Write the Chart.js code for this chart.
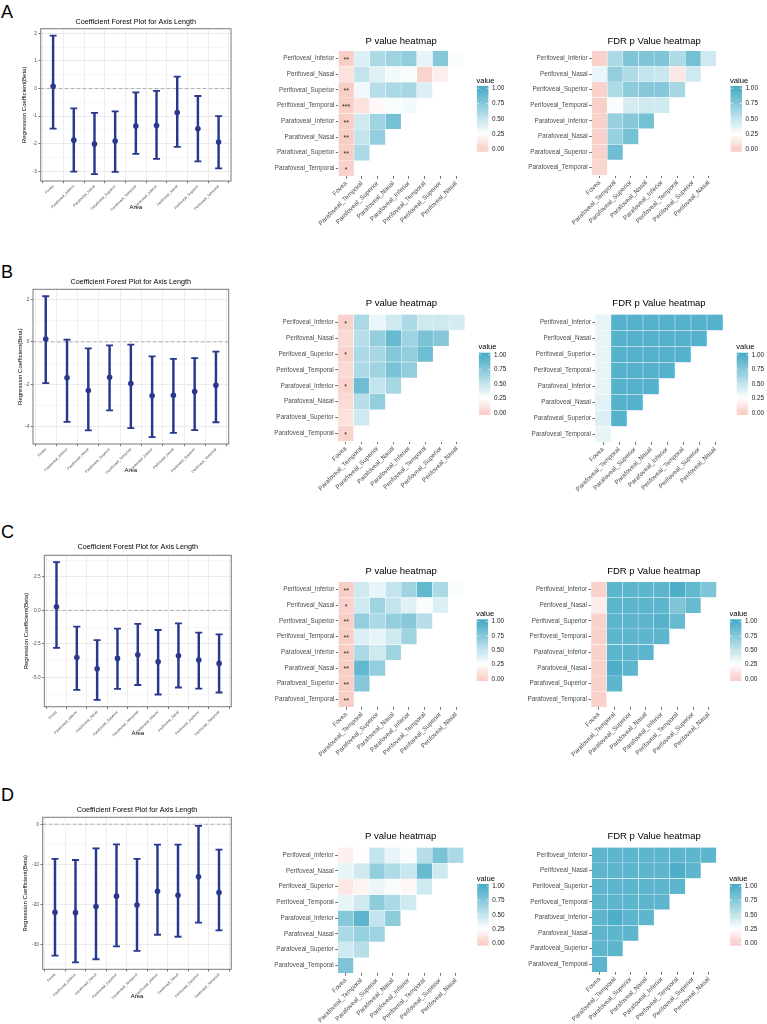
<!DOCTYPE html>
<html>
<head>
<meta charset="utf-8">
<script src="https://cdn.jsdelivr.net/npm/chart.js@4.4.1/dist/chart.umd.min.js"></script>
<style>
  body { margin: 0; background: #fff; width: 767px; height: 1024px; position: relative; overflow: hidden;
         font-family: "Liberation Sans", Arial, sans-serif; }
  canvas { position: absolute; }
  .tag { position: absolute; font-size: 18px; line-height: 18px; color: #000; }
</style>
</head>
<body>
<div class="tag" style="left:1px;top:3px">A</div>
<div class="tag" style="left:1px;top:263px">B</div>
<div class="tag" style="left:1px;top:523px">C</div>
<div class="tag" style="left:1px;top:786px">D</div>
<script>
// ---- forest plot data ----
const areas = ['Fovea', 'Parafoveal_Inferior', 'Parafoveal_Nasal', 'Parafoveal_Superior', 'Parafoveal_Temporal',
  'Perifoveal_Inferior', 'Perifoveal_Nasal', 'Perifoveal_Superior', 'Perifoveal_Temporal'];

const betaA = [0.08, -1.87, -2.01, -1.90, -1.36, -1.34, -0.87, -1.46, -1.94];
const lowA  = [-1.45, -3.01, -3.10, -3.02, -2.37, -2.55, -2.11, -2.64, -2.89];
const highA = [1.92, -0.72, -0.88, -0.83, -0.14, -0.08, 0.43, -0.27, -1.00];

const betaB = [0.14, -1.70, -2.30, -1.67, -1.97, -2.55, -2.52, -2.35, -2.05];
const lowB  = [-1.95, -3.78, -4.19, -3.24, -4.08, -4.50, -4.30, -4.17, -3.80];
const highB = [2.16, 0.11, -0.31, -0.16, -0.13, -0.68, -0.80, -0.77, -0.46];

const betaC = [0.27, -3.51, -4.35, -3.58, -3.31, -3.83, -3.38, -3.70, -3.95];
const lowC  = [-2.79, -5.93, -6.67, -5.85, -5.56, -6.27, -5.75, -5.83, -6.12];
const highC = [3.60, -1.21, -2.22, -1.36, -1.01, -1.46, -0.96, -1.65, -1.78];

const betaD = [-21.9, -22.0, -20.5, -17.9, -20.1, -16.7, -17.7, -13.1, -17.0];
const lowD  = [-32.7, -34.4, -33.6, -30.4, -31.5, -27.5, -28.0, -24.5, -26.4];
const highD = [-8.6, -8.9, -6.0, -5.0, -8.6, -5.1, -5.1, -0.4, -6.3];

// y tick labels of each forest plot
const yTicksA = [-3, -2, -1, 0, 1, 2];
const yTicksB = [-4, -2, 0, 2];
const yTicksC = [-5, -2.5, 0, 2.5];
const yTicksD = [-30, -20, -10, 0];

// ---- heatmap data (rows top to bottom, lower triangle) ----
const hmRows = ['Perifoveal_Inferior', 'Perifoveal_Nasal', 'Perifoveal_Superior', 'Perifoveal_Temporal',
  'Parafoveal_Inferior', 'Parafoveal_Nasal', 'Parafoveal_Superior', 'Parafoveal_Temporal'];
const hmCols = ['Fovea', 'Parafoveal_Temporal', 'Parafoveal_Superior', 'Parafoveal_Nasal',
  'Parafoveal_Inferior', 'Perifoveal_Temporal', 'Perifoveal_Superior', 'Perifoveal_Nasal'];
const legendTicks = [0, 0.25, 0.5, 0.75, 1];

const pA = [
  [0.005, 0.40, 0.60, 0.65, 0.70, 0.35, 0.75, 0.27],
  [0.10, 0.50, 0.38, 0.30, 0.28, 0.03, 0.17],
  [0.005, 0.31, 0.55, 0.60, 0.62, 0.40],
  [0.0005, 0.10, 0.22, 0.28, 0.30],
  [0.005, 0.45, 0.65, 0.82],
  [0.005, 0.50, 0.70],
  [0.005, 0.60],
  [0.02]
];
const starsA = ['**', '', '**', '***', '**', '**', '**', '*'];
const fdrA = [
  [0.02, 0.60, 0.78, 0.78, 0.78, 0.58, 0.82, 0.45],
  [0.34, 0.70, 0.58, 0.50, 0.48, 0.13, 0.45],
  [0.02, 0.58, 0.72, 0.75, 0.75, 0.62],
  [0.01, 0.27, 0.42, 0.45, 0.45],
  [0.02, 0.68, 0.75, 0.82],
  [0.02, 0.68, 0.82],
  [0.02, 0.85],
  [0.04]
];

const pB = [
  [0.02, 0.60, 0.33, 0.45, 0.60, 0.45, 0.45, 0.42],
  [0.06, 0.55, 0.70, 0.88, 0.65, 0.80, 0.75],
  [0.03, 0.60, 0.62, 0.75, 0.70, 0.85],
  [0.06, 0.60, 0.65, 0.80, 0.70],
  [0.03, 0.85, 0.50, 0.62],
  [0.07, 0.55, 0.70],
  [0.10, 0.45],
  [0.03]
];
const starsB = ['*', '', '*', '', '*', '', '', '*'];
const fdrB = [
  [0.35, 0.95, 0.95, 0.95, 0.95, 0.95, 0.95, 0.95],
  [0.35, 0.95, 0.95, 0.95, 0.95, 0.95, 0.95],
  [0.35, 0.95, 0.95, 0.95, 0.95, 0.95],
  [0.35, 0.95, 0.95, 0.95, 0.95],
  [0.35, 0.95, 0.95, 0.95],
  [0.37, 0.95, 0.95],
  [0.40, 0.95],
  [0.35]
];

const pC = [
  [0.005, 0.45, 0.35, 0.50, 0.65, 0.90, 0.60, 0.27],
  [0.02, 0.45, 0.65, 0.50, 0.38, 0.27, 0.40],
  [0.005, 0.70, 0.60, 0.70, 0.75, 0.55],
  [0.005, 0.40, 0.35, 0.45, 0.65],
  [0.005, 0.60, 0.45, 0.65],
  [0.005, 0.90, 0.70],
  [0.005, 0.75],
  [0.005]
];
const starsC = ['**', '*', '**', '**', '**', '**', '**', '**'];
const fdrC = [
  [0.02, 0.92, 0.92, 0.92, 0.92, 0.98, 0.90, 0.78],
  [0.16, 0.92, 0.92, 0.92, 0.92, 0.78, 0.88],
  [0.02, 0.92, 0.92, 0.92, 0.95, 0.88],
  [0.02, 0.92, 0.92, 0.92, 0.92],
  [0.02, 0.92, 0.92, 0.92],
  [0.02, 0.98, 0.92],
  [0.02, 0.92],
  [0.02]
];

const pD = [
  [0.17, 0.24, 0.50, 0.35, 0.27, 0.55, 0.80, 0.60],
  [0.35, 0.45, 0.70, 0.58, 0.48, 0.88, 0.45],
  [0.13, 0.19, 0.33, 0.28, 0.21, 0.45],
  [0.35, 0.45, 0.72, 0.60, 0.45],
  [0.75, 0.92, 0.50, 0.72],
  [0.60, 0.68, 0.65],
  [0.45, 0.55],
  [0.78]
];
const starsD = ['', '', '', '', '', '', '', ''];
const fdrD = [
  [0.92, 0.92, 0.92, 0.92, 0.92, 0.92, 0.92, 0.92],
  [0.92, 0.92, 0.92, 0.92, 0.92, 0.98, 0.92],
  [0.92, 0.92, 0.92, 0.92, 0.92, 0.92],
  [0.92, 0.92, 0.92, 0.92, 0.92],
  [0.92, 0.98, 0.92, 0.92],
  [0.92, 0.92, 0.92],
  [0.92, 0.92],
  [0.92]
];

// ---- styling ----
Chart.defaults.font.family = '"Liberation Sans", Arial, sans-serif';
Chart.defaults.animation = false;

const NAVY = '#28388e';
const LOW = [248, 206, 198], MID = [255, 255, 255], HIGH = [74, 173, 199];
const MIDPOINT = 0.25;

function fillColor(v) {
  let a, b, t;
  if (v < MIDPOINT) { a = LOW; b = MID; t = v / MIDPOINT; }
  else { a = MID; b = HIGH; t = (v - MIDPOINT) / (1 - MIDPOINT); }
  const c = a.map((x, k) => Math.round(x + (b[k] - x) * t));
  return 'rgb(' + c.join(',') + ')';
}

function addCanvas(left, top, w, h) {
  const c = document.createElement('canvas');
  c.width = w; c.height = h;
  c.style.left = left + 'px'; c.style.top = top + 'px';
  c.style.width = w + 'px'; c.style.height = h + 'px';
  document.body.appendChild(c);
  return c;
}

const forestDeco = {
  id: 'forestDeco',
  beforeDatasetsDraw(chart) {
    const { ctx, chartArea: a, scales: { y } } = chart;
    const y0 = y.getPixelForValue(0);
    ctx.save();
    ctx.strokeStyle = '#a0a0a0'; ctx.lineWidth = 0.8; ctx.setLineDash([3.5, 2.5]);
    ctx.beginPath(); ctx.moveTo(a.left, y0); ctx.lineTo(a.right, y0); ctx.stroke();
    ctx.restore();
  },
  afterDraw(chart) {
    const { ctx, chartArea: a } = chart;
    ctx.save();
    ctx.strokeStyle = '#7a7a7a'; ctx.lineWidth = 1;
    ctx.strokeRect(a.left, a.top, a.right - a.left, a.bottom - a.top);
    ctx.restore();
  }
};

const starPlugin = {
  id: 'stars',
  afterDatasetsDraw(chart, args, opts) {
    const { ctx, scales: { x, y } } = chart;
    ctx.save();
    ctx.font = '7px "Liberation Sans", Arial, sans-serif';
    ctx.fillStyle = '#222'; ctx.textAlign = 'center'; ctx.textBaseline = 'middle';
    opts.list.forEach((s, i) => {
      if (s) ctx.fillText(s, x.getPixelForValue(0), y.getPixelForValue(hmRows.length - 0.5 - i) + 1.5);
    });
    ctx.restore();
  }
};

const colorbarPlugin = {
  id: 'colorbar',
  afterDraw(chart, args, o) {
    const { ctx, chartArea: a } = chart;
    const bx = a.right + o.dx, by = a.top + o.dy, bw = 11.5, bh = o.h, inset = 2.2;
    const y0 = by + bh - inset, y1 = by + inset;
    const g = ctx.createLinearGradient(0, y0, 0, y1);
    for (let k = 0; k <= 40; k++) g.addColorStop(k / 40, fillColor(k / 40));
    ctx.save();
    ctx.fillStyle = g;
    ctx.fillRect(bx, by, bw, bh);
    ctx.font = '6.4px "Liberation Sans", Arial, sans-serif';
    ctx.textAlign = 'left'; ctx.textBaseline = 'middle';
    legendTicks.forEach(v => {
      const ty = y0 - v * (y0 - y1);
      ctx.strokeStyle = '#fff'; ctx.lineWidth = 0.6;
      ctx.beginPath();
      ctx.moveTo(bx, ty); ctx.lineTo(bx + 2.2, ty);
      ctx.moveTo(bx + bw - 2.2, ty); ctx.lineTo(bx + bw, ty);
      ctx.stroke();
      ctx.fillStyle = '#1a1a1a';
      ctx.fillText(v.toFixed(2), bx + bw + 3.5, ty);
    });
    ctx.font = '7.6px "Liberation Sans", Arial, sans-serif';
    ctx.fillStyle = '#000';
    ctx.fillText('value', bx - 0.5, by - 5.5);
    ctx.restore();
  }
};

function forestChart(beta, low, high, majors, lay) {
  const tf = 7.2, tlh = tf * 1.2;
  const top = Math.floor(lay.titleY - 6);
  const tPadTop = lay.titleY - top - tlh / 2;
  const tPadBot = lay.top - top - tPadTop - tlh;
  const af = 6, alh = af * 1.2;
  const bottom = Math.ceil(lay.areaY + alh / 2 + 1);
  const aPadBot = bottom - lay.areaY - alh / 2;
  const xH = bottom - lay.bottom;
  const w = Math.ceil(lay.right + 8);
  const canvas = addCanvas(0, top, w, bottom - top);

  const step = majors[1] - majors[0];
  const isMajor = v => majors.some(m => Math.abs(m - v) < 1e-6);
  const fmt = v => (Number.isInteger(step) ? v.toFixed(0) : v.toFixed(1));

  new Chart(canvas, {
    type: 'bar',
    data: {
      datasets: [
        { type: 'line', data: beta.map((b, i) => ({ x: i, y: b })), showLine: false,
          pointRadius: 2.8, pointBackgroundColor: NAVY, pointBorderColor: NAVY, pointBorderWidth: 0 },
        { type: 'line', data: high.map((h, i) => ({ x: i, y: h })), showLine: false,
          pointStyle: 'line', pointRadius: 3.5, pointBorderWidth: 1.8, pointBorderColor: NAVY },
        { type: 'line', data: low.map((l, i) => ({ x: i, y: l })), showLine: false,
          pointStyle: 'line', pointRadius: 3.5, pointBorderWidth: 1.8, pointBorderColor: NAVY },
        { type: 'bar', data: low.map((l, i) => ({ x: i, y: [l, high[i]] })), backgroundColor: NAVY,
          barThickness: 1.8, borderWidth: 0 }
      ]
    },
    options: {
      responsive: false, devicePixelRatio: 1, animation: false,
      layout: { padding: { left: 0, top: 0, right: w - lay.right, bottom: 0 } },
      scales: {
        x: {
          type: 'linear', min: -0.6, max: areas.length - 0.4, offset: false,
          afterBuildTicks: ax => { ax.ticks = areas.map((a, i) => ({ value: i })); },
          afterFit: ax => { ax.height = xH; },
          ticks: { callback: (v, i) => areas[i], autoSkip: false, minRotation: 45, maxRotation: 45,
                   font: { size: 3.7 }, color: '#4d4d4d', padding: 1 },
          grid: { color: '#e6e6e6', lineWidth: 0.7, tickColor: '#333', tickLength: 2.2 },
          border: { display: false },
          title: { display: true, text: 'Area', color: '#000', font: { size: af },
                   padding: { top: 0, bottom: aPadBot } }
        },
        y: {
          type: 'linear', min: lay.min, max: lay.max,
          afterBuildTicks: ax => {
            const t = [];
            for (let v = majors[0] - step / 2; v <= majors[majors.length - 1] + step / 2 + 1e-9; v += step / 2) {
              if (v >= lay.min && v <= lay.max) t.push({ value: +v.toFixed(4) });
            }
            ax.ticks = t;
          },
          afterFit: ax => { ax.width = lay.left; },
          ticks: { callback: v => (isMajor(v) ? fmt(v) : ''), font: { size: 4.8 }, color: '#4d4d4d', padding: 1.5 },
          grid: {
            color: c => (c.tick && isMajor(c.tick.value) ? '#e3e3e3' : '#f2f2f2'),
            tickColor: c => (c.tick && isMajor(c.tick.value) ? '#333' : 'rgba(0,0,0,0)'),
            lineWidth: 0.7, tickLength: 2.2
          },
          border: { display: false },
          title: { display: true, text: 'Regression Coefficient(Beta)', color: '#000', font: { size: 6 },
                   padding: { top: lay.yTitleX - 3.6, bottom: 0 } }
        }
      },
      plugins: {
        legend: { display: false }, tooltip: { enabled: false },
        title: { display: true, text: 'Coefficient Forest Plot for Axis Length', fullSize: false,
                 color: '#000', font: { size: tf, weight: 'normal' }, padding: { top: tPadTop, bottom: tPadBot } }
      }
    },
    plugins: [forestDeco]
  });
}

function heatChart(title, vals, stars, lay) {
  const n = hmRows.length;
  const gw = hmCols.length * lay.cell;
  const left = Math.floor(lay.gridLeft) - 80;
  const yW = lay.gridLeft - left;
  const tf = 9.5, tlh = tf * 1.2;
  const top = Math.floor(lay.titleY - 8);
  const tPadTop = lay.titleY - top - tlh / 2;
  const tPadBot = lay.gridTop - top - tPadTop - tlh;
  const xH = 75;
  const w = Math.ceil(yW + gw + 62);
  const h = Math.ceil(lay.gridTop - top + gw + xH);
  const canvas = addCanvas(left, top, w, h);

  new Chart(canvas, {
    type: 'bar',
    data: {
      labels: hmCols,
      datasets: hmRows.map((r, i) => ({
        label: r,
        data: hmCols.map((c, j) => (j < vals[i].length ? [n - 1 - i, n - i] : null)),
        backgroundColor: hmCols.map((c, j) => (j < vals[i].length ? fillColor(vals[i][j]) : 'rgba(0,0,0,0)')),
        borderColor: 'rgba(255,255,255,0.55)', borderWidth: 0.5, borderSkipped: false,
        grouped: false, barPercentage: 1, categoryPercentage: 1
      }))
    },
    options: {
      responsive: false, devicePixelRatio: 1, animation: false,
      layout: { padding: { left: 0, top: 0, right: w - yW - gw, bottom: h - (lay.gridTop - top) - gw - xH } },
      scales: {
        x: {
          type: 'category', offset: true,
          afterFit: ax => { ax.height = xH; },
          ticks: { autoSkip: false, minRotation: 45, maxRotation: 45, font: { size: 6.3 }, color: '#4d4d4d', padding: 1 },
          grid: { offset: false, drawOnChartArea: false, color: '#333', tickLength: 2.5, lineWidth: 0.7 },
          border: { display: false }
        },
        y: {
          type: 'linear', min: 0, max: n,
          afterBuildTicks: ax => { ax.ticks = hmRows.map((r, i) => ({ value: i + 0.5 })); },
          afterFit: ax => { ax.width = yW; },
          ticks: { callback: (v, i) => hmRows[n - 1 - i], font: { size: 6.3 }, color: '#4d4d4d', padding: 1.5 },
          grid: { drawOnChartArea: false, color: '#333', tickLength: 2.5, lineWidth: 0.7 },
          border: { display: false }
        }
      },
      plugins: {
        legend: { display: false }, tooltip: { enabled: false },
        title: { display: true, text: title, fullSize: false, color: '#000',
                 font: { size: tf, weight: 'normal' }, padding: { top: tPadTop, bottom: tPadBot } },
        stars: { list: stars },
        colorbar: { dx: lay.legDx, dy: lay.legDy, h: lay.legH }
      }
    },
    plugins: [starPlugin, colorbarPlugin]
  });
}

// ---- panel placement ----
forestChart(betaA, lowA, highA, yTicksA,
  { titleY: 22, top: 28.7, bottom: 181, left: 40.7, right: 231, areaY: 207.5, yTitleX: 24, min: -3.35, max: 2.17 });
forestChart(betaB, lowB, highB, yTicksB,
  { titleY: 282, top: 289.3, bottom: 444, left: 33, right: 228.7, areaY: 470.5, yTitleX: 20, min: -4.83, max: 2.49 });
forestChart(betaC, lowC, highC, yTicksC,
  { titleY: 547.3, top: 555.3, bottom: 706.7, left: 44.3, right: 231.3, areaY: 733.5, yTitleX: 26.7, min: -7.18, max: 4.11 });
forestChart(betaD, lowD, highD, yTicksD,
  { titleY: 810.3, top: 817.3, bottom: 969.3, left: 42.7, right: 231.3, areaY: 996.5, yTitleX: 25.7, min: -36.1, max: 1.72 });

heatChart('P value heatmap', pA, starsA,
  { gridLeft: 338.3, gridTop: 50.7, cell: 15.7, titleY: 41.7, legDx: 13, legDy: 35.3, legH: 65.7 });
heatChart('FDR p Value heatmap', fdrA, starsD,
  { gridLeft: 591.7, gridTop: 50.7, cell: 15.6, titleY: 41.7, legDx: 14, legDy: 35.3, legH: 65.7 });
heatChart('P value heatmap', pB, starsB,
  { gridLeft: 337.7, gridTop: 314.3, cell: 15.9, titleY: 303.3, legDx: 14, legDy: 38.4, legH: 62.3 });
heatChart('FDR p Value heatmap', fdrB, starsD,
  { gridLeft: 595, gridTop: 314.3, cell: 16, titleY: 303.3, legDx: 13.7, legDy: 38.4, legH: 62.3 });
heatChart('P value heatmap', pC, starsC,
  { gridLeft: 338.3, gridTop: 581.7, cell: 15.7, titleY: 571, legDx: 12.7, legDy: 37.6, legH: 61.7 });
heatChart('FDR p Value heatmap', fdrC, starsD,
  { gridLeft: 591, gridTop: 581.7, cell: 15.7, titleY: 571, legDx: 13.3, legDy: 37.6, legH: 61.7 });
heatChart('P value heatmap', pD, starsD,
  { gridLeft: 337.7, gridTop: 847.3, cell: 15.75, titleY: 836, legDx: 13.5, legDy: 36.7, legH: 61.7 });
heatChart('FDR p Value heatmap', fdrD, starsD,
  { gridLeft: 591.7, gridTop: 847.3, cell: 15.6, titleY: 836, legDx: 13.3, legDy: 36.7, legH: 61.7 });
</script>
</body>
</html>
